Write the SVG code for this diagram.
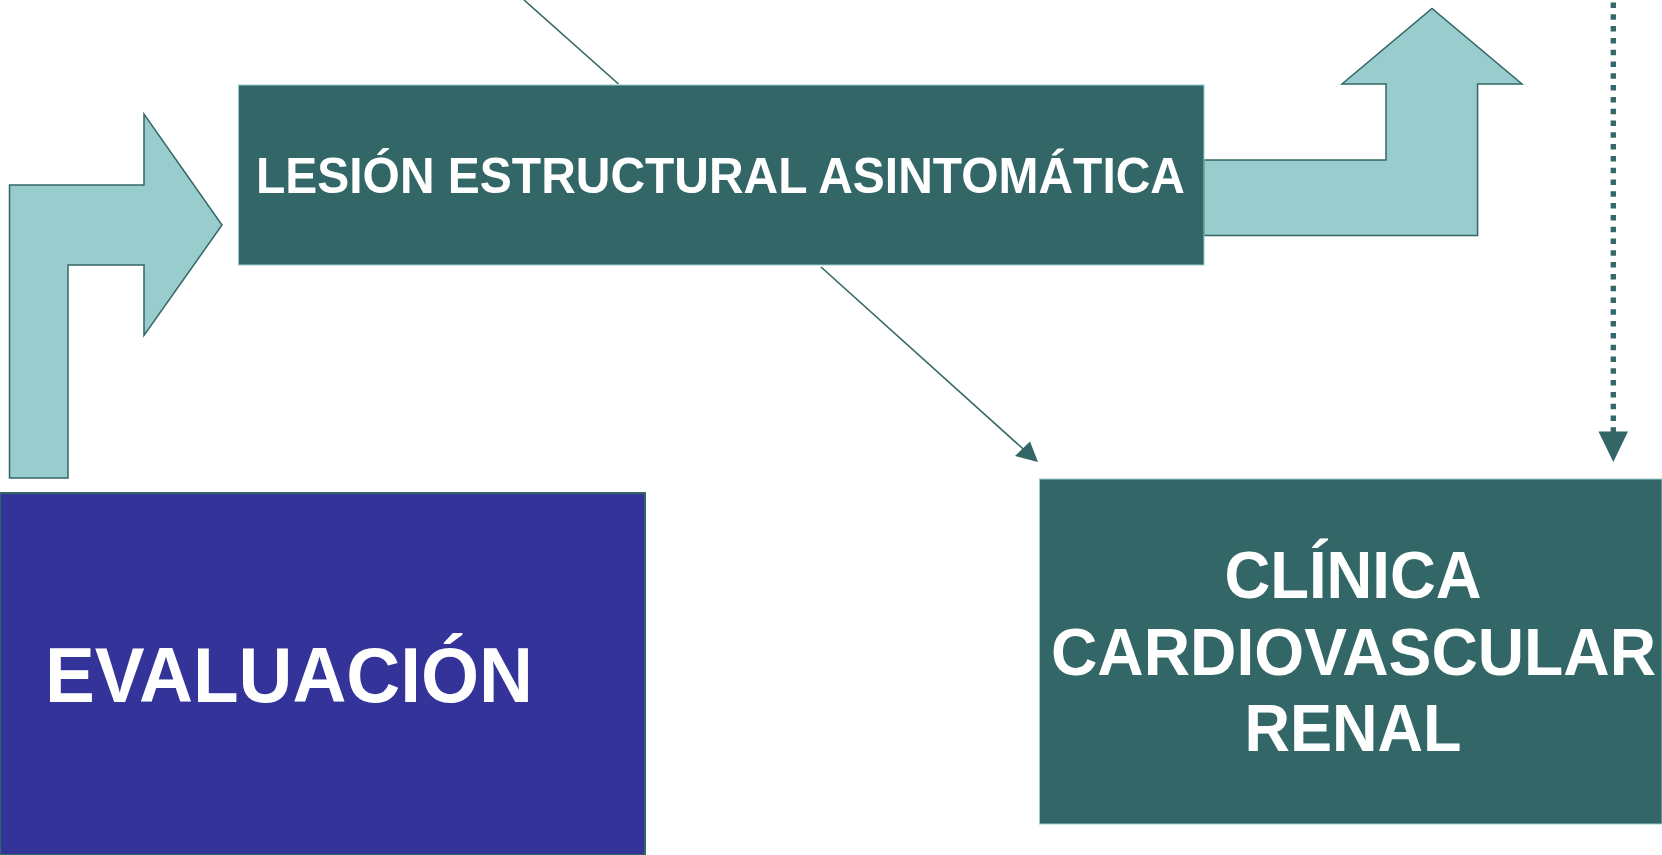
<svg xmlns="http://www.w3.org/2000/svg" width="1662" height="855" viewBox="0 0 1662 855">
<style>
.bent{fill:#99CCCC;stroke:#336666;stroke-width:1.5;stroke-linejoin:miter}
.tealbox{fill:#336666;stroke:#99CCCC;stroke-width:1}
.bluebox{fill:#333399;stroke:#336666;stroke-width:2}
.lbl{font-family:"Liberation Sans",Arial,sans-serif;font-weight:bold;fill:#FFFFFF}
.conn{stroke:#336666;stroke-width:1.6;fill:none}
</style>
<rect width="1662" height="855" fill="#FFFFFF"/>
<g id="connectors">
<line class="conn" x1="524" y1="0" x2="618.5" y2="84"/>
<line class="conn" x1="821" y1="267" x2="1026" y2="451.5"/>
<path d="M1038,462 L1015,456 L1030,441.5 z" fill="#336666"/>
<line x1="1613.3" y1="2.5" x2="1613.3" y2="432" stroke="#336666" stroke-width="5.3" stroke-dasharray="5.5 6.3"/>
<path d="M1598.5,431.5 L1628,431.5 L1613.3,462 z" fill="#336666"/>
</g>
<g id="arrow-left">
<polygon class="bent" points="9.5,478 9.5,185 144,185 144,114 222,225 144,335.5 144,265 68,265 68,478"/>
</g>
<g id="arrow-right">
<polygon class="bent" points="1204,160 1386,160 1386,84 1342,84 1432,8.5 1522,84 1477.6,84 1477.6,235.5 1204,235.5"/>
</g>
<g id="node-lesion">
<rect class="tealbox" x="238.5" y="85" width="965.5" height="180"/>
<text class="lbl" x="256" y="193" font-size="50" textLength="929" lengthAdjust="spacingAndGlyphs">LESIÓN ESTRUCTURAL ASINTOMÁTICA</text>
</g>
<g id="node-evaluacion">
<rect class="bluebox" x="0" y="493" width="645" height="362"/>
<text class="lbl" x="45" y="702" font-size="77" textLength="488" lengthAdjust="spacingAndGlyphs">EVALUACIÓN</text>
</g>
<g id="node-clinica">
<rect class="tealbox" x="1039.5" y="479" width="622.5" height="345"/>
<text class="lbl" x="1224.5" y="598" font-size="67" textLength="257" lengthAdjust="spacingAndGlyphs">CLÍNICA</text>
<text class="lbl" x="1051" y="675" font-size="67" textLength="605" lengthAdjust="spacingAndGlyphs">CARDIOVASCULAR</text>
<text class="lbl" x="1244.5" y="751" font-size="67" textLength="217" lengthAdjust="spacingAndGlyphs">RENAL</text>
</g>
</svg>
